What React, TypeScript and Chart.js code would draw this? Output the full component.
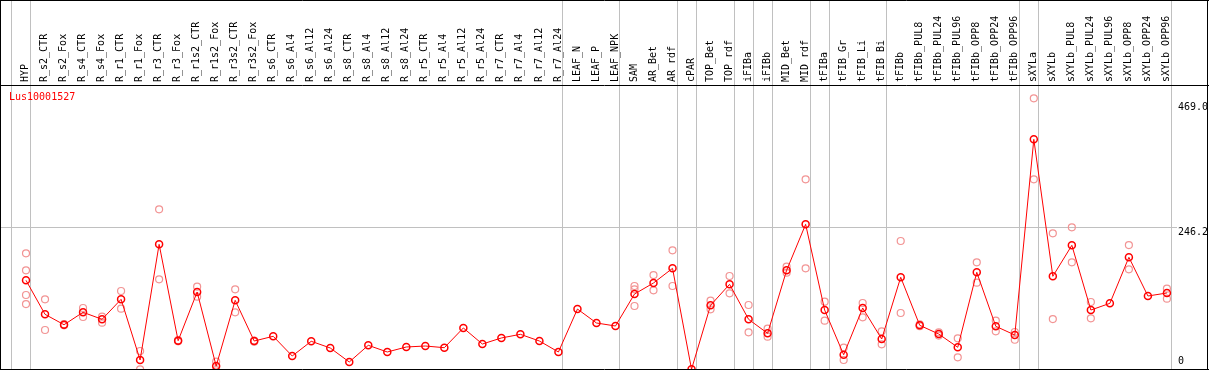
import React, { useEffect, useRef } from "react";
import { Chart, registerables } from "chart.js";

Chart.register(...registerables);

const chartTitle = "Lus10001527";

const categories = [
  "HYP", "R_s2_CTR", "R_s2_Fox", "R_s4_CTR", "R_s4_Fox", "R_r1_CTR", "R_r1_Fox", "R_r3_CTR", "R_r3_Fox",
  "R_r1s2_CTR", "R_r1s2_Fox", "R_r3s2_CTR", "R_r3s2_Fox", "R_s6_CTR", "R_s6_Al4", "R_s6_Al12", "R_s6_Al24",
  "R_s8_CTR", "R_s8_Al4", "R_s8_Al12", "R_s8_Al24", "R_r5_CTR", "R_r5_Al4", "R_r5_Al12", "R_r5_Al24",
  "R_r7_CTR", "R_r7_Al4", "R_r7_Al12", "R_r7_Al24", "LEAF_N", "LEAF_P", "LEAF_NPK", "SAM", "AR_Bet", "AR_rdf",
  "cPAR", "TOP_Bet", "TOP_rdf", "iFIBa", "iFIBb", "MID_Bet", "MID_rdf", "tFIBa", "tFIB_Gr", "tFIB_Li", "tFIB_Bi",
  "tFIBb", "tFIBb_PUL8", "tFIBb_PUL24", "tFIBb_PUL96", "tFIBb_OPP8", "tFIBb_OPP24", "tFIBb_OPP96",
  "sXYLa", "sXYLb", "sXYLb_PUL8", "sXYLb_PUL24", "sXYLb_PUL96", "sXYLb_OPP8", "sXYLb_OPP24", "sXYLb_OPP96",
];

const meanValues = [
  156.0, 97.5, 79.6, 101.0, 88.9, 123.3, 18.9, 217.9, 52.1,
  135.9, 8.6, 121.6, 51.6, 59.7, 25.8, 51.1, 39.6,
  15.5, 44.2, 32.7, 41.3, 43.0, 40.1, 74.0, 46.4,
  56.8, 63.1, 51.6, 32.7, 106.6, 82.6, 77.4, 132.4, 151.4, 176.6,
  3.0, 113.0, 149.1, 88.9, 64.8, 173.2, 252.3, 104.9, 28.0, 108.4, 55.0,
  161.2, 78.6, 63.6, 40.8, 169.8, 76.9, 61.9,
  398.5, 162.9, 216.2, 104.9, 116.4, 195.6, 129.0, 134.2,
];

const repA = [
  202.4, 123.3, 80.5, 108.4, 93.4, 137.6, 34.4, 278.1, 53.0,
  145.0, 16.0, 140.5, 52.5, null, null, null, null,
  null, null, null, null, null, null, null, null,
  null, null, null, null, null, null, null, 146.2, 165.1, 207.6,
  null, 120.9, 163.4, 113.5, 72.8, 179.4, 329.7, 119.2, 40.1, 117.0, 68.3,
  223.6, 80.3, 66.6, 56.2, 187.0, 86.5, 67.1,
  469.0, 236.8, 247.2, 118.7, null, 216.7, null, 141.6,
];

const repB = [
  115.2, 70.5, 78.5, 92.9, 83.1, 107.2, 2.9, 157.7, 51.0,
  127.8, 1.5, 101.0, 50.5, null, null, null, null,
  null, null, null, null, null, null, null, null,
  null, null, null, null, null, null, null, 111.8, 138.8, 146.2,
  null, 106.1, 133.6, 66.6, 59.0, 169.1, 176.6, 86.5, 18.9, 92.4, 45.9,
  99.8, 77.0, 61.0, 23.6, 151.9, 68.3, 53.8,
  329.7, 89.4, 187.0, 90.6, null, 174.9, null, 124.4,
];

const repC = [173.2, 140.5];
const repCIndex = [0, 32];
const repD = [130.7];
const repDIndex = [0];

const yTickValues = [0, 246.2, 469.0];
const yTickLabels = ["0", "246.2", "469.0"];
const yLabelShift = [-10, 5, 9];
const groupEnds = [-1, 0, 28, 31, 34, 35, 37, 38, 39, 41, 42, 45, 52, 53, 60];

const MONO = "'DejaVu Sans Mono', monospace";

const decorPlugin = {
  id: "decor",
  beforeDatasetsDraw(chart: any) {
    const ctx = chart.ctx;
    const xs = chart.scales.x;
    ctx.save();
    ctx.strokeStyle = "#c0c0c0";
    ctx.lineWidth = 1;
    groupEnds.forEach((i) => {
      const px = Math.round(xs.getPixelForValue(i + 0.21)) + 0.5;
      ctx.beginPath();
      ctx.moveTo(px, 0);
      ctx.lineTo(px, 369);
      ctx.stroke();
    });
    ctx.restore();
  },
  afterDraw(chart: any) {
    const ctx = chart.ctx;
    const ys = chart.scales.y;
    const ca = chart.chartArea;
    ctx.save();
    ctx.font = `10px ${MONO}`;
    ctx.textBaseline = "middle";
    ctx.textAlign = "left";
    ctx.fillStyle = "#000";
    yTickValues.forEach((v, k) => {
      ctx.fillText(yTickLabels[k], ca.right + 1, ys.getPixelForValue(v) + yLabelShift[k]);
    });
    ctx.fillStyle = "#ff0000";
    ctx.fillText(chartTitle, 9, ca.top + 12.5);
    ctx.strokeStyle = "#000";
    ctx.lineWidth = 1;
    ctx.beginPath();
    ctx.moveTo(0, 0.5); ctx.lineTo(1209, 0.5);
    ctx.moveTo(0, 85.5); ctx.lineTo(1209, 85.5);
    ctx.moveTo(0, 369.5); ctx.lineTo(1209, 369.5);
    ctx.moveTo(0.5, 0); ctx.lineTo(0.5, 371);
    ctx.moveTo(1207.5, 0); ctx.lineTo(1207.5, 371);
    ctx.stroke();
    ctx.restore();
  },
};

export default function App() {
  const ref = useRef<HTMLCanvasElement | null>(null);

  useEffect(() => {
    document.body.style.margin = "0";
    const canvas = ref.current;
    if (!canvas) return;
    const toPts = (arr: (number | null)[]) =>
      arr.map((v, i) => (v === null ? null : { x: i, y: v })).filter((p) => p !== null);
    const repPoints = [
      ...toPts(repA),
      ...toPts(repB),
      ...repC.map((v, k) => ({ x: repCIndex[k], y: v })),
      ...repD.map((v, k) => ({ x: repDIndex[k], y: v })),
    ];
    const chart = new Chart(canvas, {
      type: "line",
      data: {
        datasets: [
          {
            label: "mean",
            data: meanValues.map((v, i) => ({ x: i, y: v })),
            borderColor: "#ff0000",
            borderWidth: 1,
            pointRadius: 3.5,
            pointBorderWidth: 1.5,
            pointBorderColor: "#ff0000",
            pointBackgroundColor: "rgba(255,255,255,0)",
            fill: false,
            tension: 0,
            clip: false,
            order: 0,
          } as any,
          {
            label: "replicates",
            data: repPoints,
            showLine: false,
            pointRadius: 3.5,
            pointBorderWidth: 1.2,
            pointBorderColor: "#f29494",
            pointBackgroundColor: "rgba(255,255,255,0)",
            clip: false,
            order: 1,
          } as any,
        ],
      },
      options: {
        animation: false,
        responsive: false,
        devicePixelRatio: 1,
        layout: { autoPadding: false, padding: { left: 1, right: 0, top: 0, bottom: 0 } },
        plugins: { legend: { display: false }, tooltip: { enabled: false }, title: { display: false } },
        scales: {
          x: {
            type: "linear",
            position: "top",
            min: -1.315,
            max: 60.53,
            afterBuildTicks: (s: any) => {
              s.ticks = categories.map((_, i) => ({ value: i }));
            },
            afterFit: (s: any) => {
              s.height = 85;
              s.paddingLeft = 0;
              s.paddingRight = 0;
            },
            grid: { display: false, drawTicks: false },
            border: { display: false },
            ticks: {
              autoSkip: false,
              minRotation: 90,
              maxRotation: 90,
              padding: 3,
              labelOffset: 11.5,
              color: "#000",
              font: { family: MONO, size: 10 },
              callback: (v: any) => categories[v] ?? "",
            },
          },
          y: {
            position: "right",
            min: 0,
            max: 492,
            afterBuildTicks: (s: any) => {
              s.ticks = yTickValues.map((v) => ({ value: v }));
            },
            afterFit: (s: any) => {
              s.width = 32;
              s.paddingTop = 0;
              s.paddingBottom = 0;
            },
            grid: {
              drawTicks: false,
              lineWidth: 1,
              color: (c: any) => (c.tick && c.tick.value === 246.2 ? "#c0c0c0" : "rgba(0,0,0,0)"),
            },
            border: { display: false },
            ticks: { display: false },
          },
        },
      },
      plugins: [decorPlugin],
    });
    return () => chart.destroy();
  }, []);

  return (
    <div style={{ width: 1209, height: 370, overflow: "hidden", position: "relative", background: "#fff" }}>
      <canvas ref={ref} width={1209} height={371} style={{ display: "block", width: 1209, height: 371 }} />
    </div>
  );
}
